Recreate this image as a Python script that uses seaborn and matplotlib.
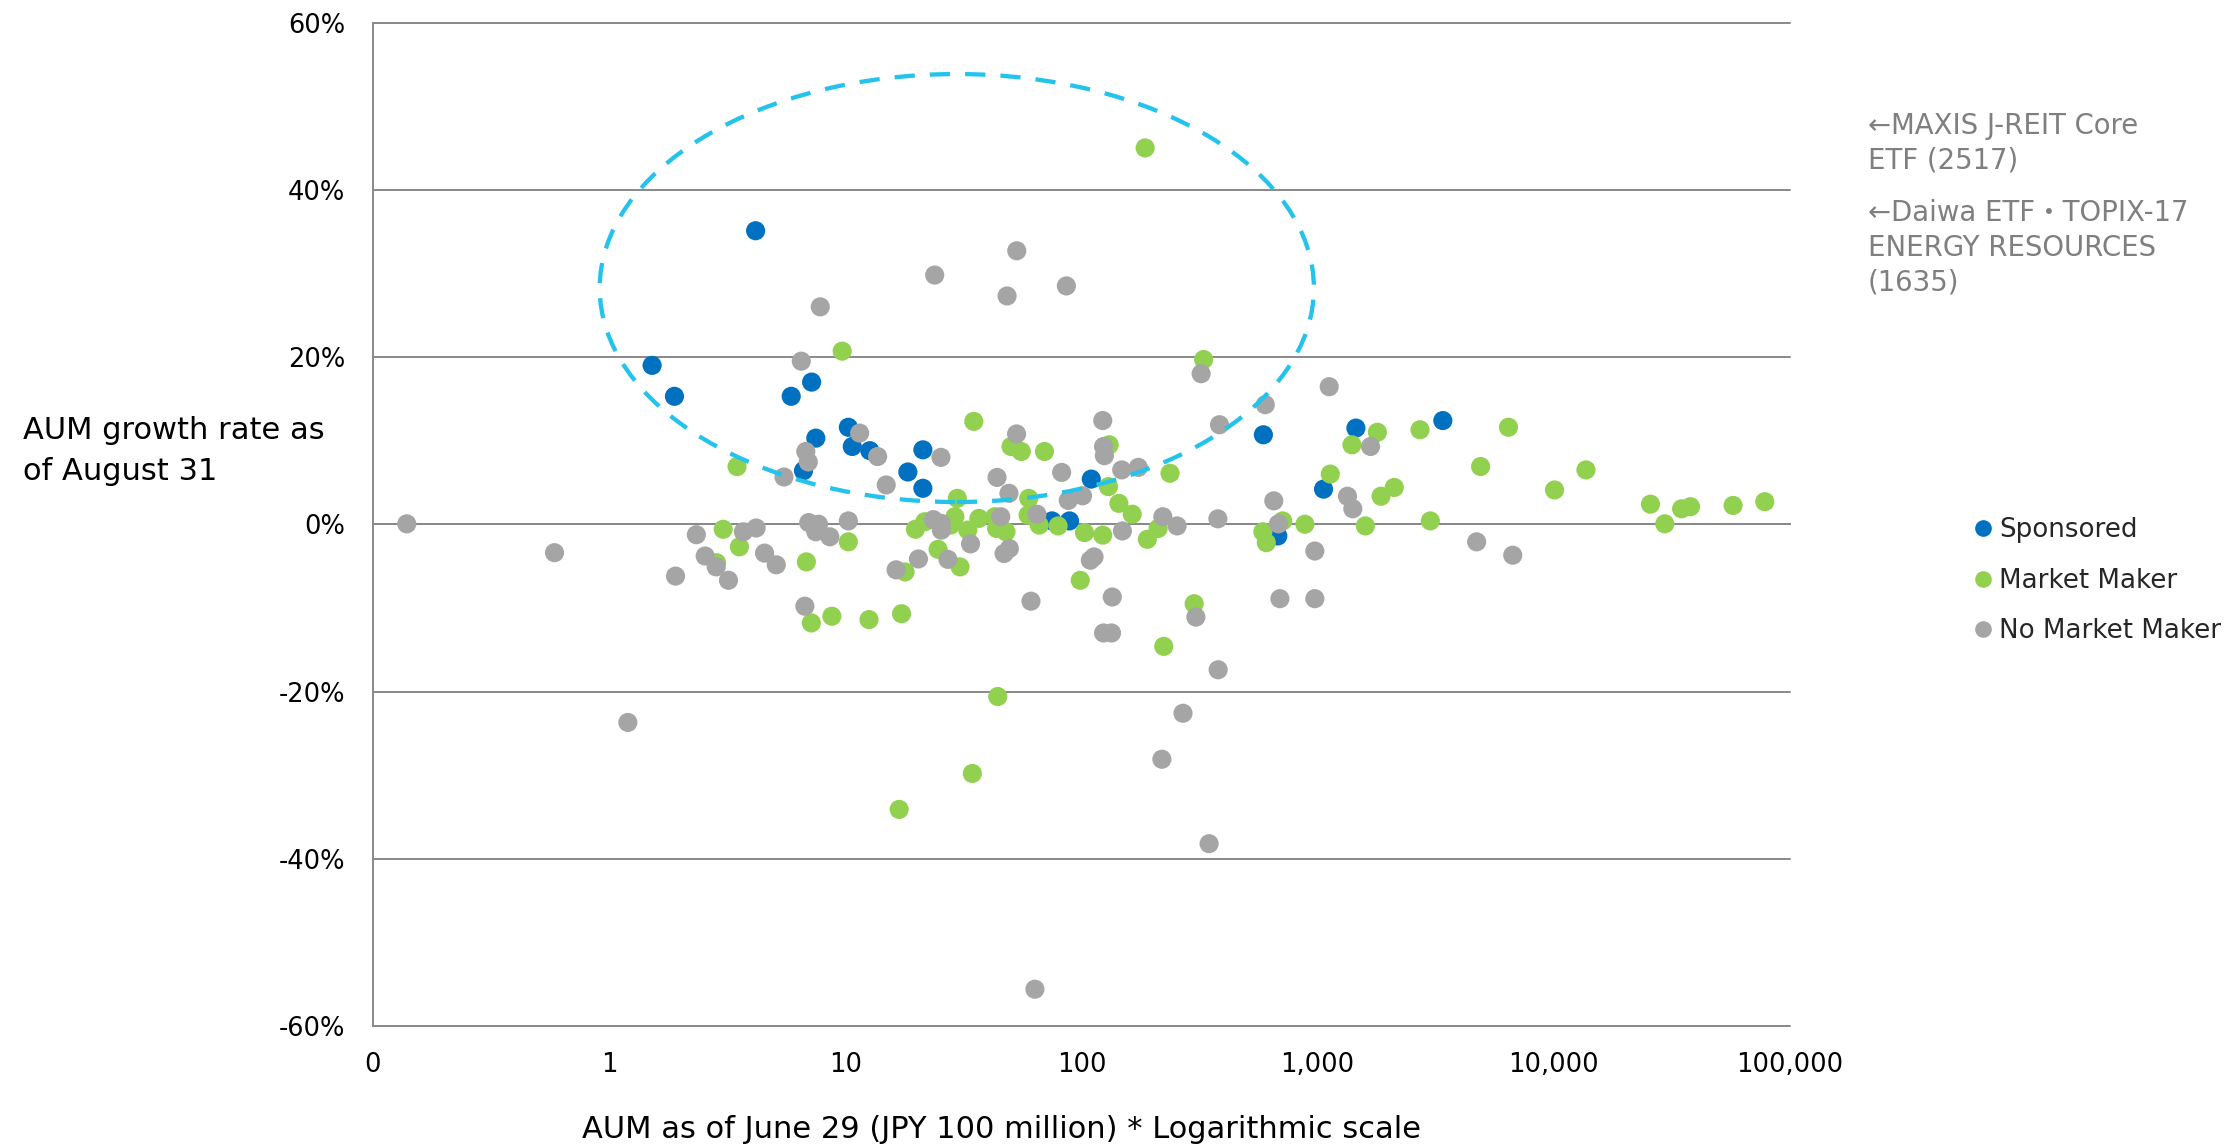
import matplotlib
matplotlib.use("Agg")
import matplotlib.pyplot as plt
from matplotlib.patches import Ellipse
from matplotlib.lines import Line2D
from matplotlib.ticker import NullLocator
import pandas as pd
import seaborn as sns

# ---------------- data ----------------
series_names = ["Sponsored", "Market Maker", "No Market Maker"]
series_colors = ["#0070C0", "#92D050", "#A5A5A5"]

sponsored_aum = [4.17, 1.52, 1.89, 5.9, 7.2, 10.3, 7.5, 10.7, 12.7, 6.65, 18.4,
                 21.3, 21.3, 110, 75, 89, 589, 678, 1059, 1452, 3388]
sponsored_growth = [35.1, 19.0, 15.3, 15.3, 17.0, 11.6, 10.3, 9.3, 8.8, 6.4, 6.25,
                    8.9, 4.3, 5.4, 0.4, 0.4, 10.7, -1.4, 4.2, 11.5, 12.4]

market_maker_aum = [9.7, 3.48, 3.04, 3.56, 10.3, 19.8, 6.84, 2.85, 7.18, 8.77, 12.6,
                    17.3, 17.9, 16.9, 44.2, 34.5, 30.6, 24.7, 35.0, 21.7, 29.1, 27.9,
                    33.0, 36.8, 43.0, 43.7, 47.9, 50.3, 55.6, 69.7, 29.8, 59.8, 59.4,
                    66.2, 79.6, 103, 123, 131, 130, 144, 164, 190, 211, 186, 237, 329,
                    98.8, 223, 300, 586, 606, 711, 883, 1131, 1397, 1790, 1592, 1855,
                    2110, 2712, 3000, 4898, 6426, 10070, 13680, 25650, 29500, 34750,
                    37900, 57400, 78200]
market_maker_growth = [20.7, 6.9, -0.6, -2.7, -2.1, -0.6, -4.5, -4.6, -11.8, -11.0, -11.4,
                       -10.7, -5.7, -34.1, -20.6, -29.8, -5.1, -3.0, 12.3, 0.3, 0.9, -0.1,
                       -0.7, 0.7, 0.9, -0.5, -0.9, 9.3, 8.7, 8.7, 3.1, 3.1, 1.1,
                       -0.1, -0.2, -1.0, -1.3, 9.5, 4.5, 2.5, 1.2, -1.8, -0.5, 45.0, 6.1, 19.7,
                       -6.7, -14.6, -9.5, -0.9, -2.2, 0.4, 0.0, 6.0, 9.5, 11.0, -0.2, 3.35,
                       4.4, 11.3, 0.4, 6.9, 11.6, 4.1, 6.5, 2.4, 0.05, 1.85,
                       2.1, 2.25, 2.7]

no_market_maker_aum = [0.139, 0.587, 1.20, 1.91, 2.34, 2.55, 2.84, 3.20, 3.70, 4.19, 4.55,
                       5.1, 5.5, 6.51, 7.83, 6.74, 6.8, 6.97, 7.0, 7.7, 7.5, 8.6, 10.3,
                       11.5, 13.7, 14.9, 16.4, 20.4, 23.9, 25.4, 23.6, 25.5, 25.5, 27.2,
                       33.9, 43.9, 49.3, 45.5, 47.0, 49.5, 53.2, 48.4, 86.3, 53.1, 64.8,
                       61.1, 63.5, 82.4, 87.9, 101, 109, 113, 123, 124, 125, 148, 174,
                       149, 135, 124, 134, 221, 254, 219, 269, 305, 321, 347, 379, 378,
                       384, 600, 652, 682, 692, 973, 973, 1119, 1337, 1409, 1675, 4712, 6700]
no_market_maker_growth = [0.05, -3.4, -23.7, -6.2, -1.25, -3.8, -5.1, -6.7, -0.9, -0.45, -3.45,
                          -4.85, 5.65, 19.5, 26.0, -9.8, 8.7, 7.45, 0.2, 0.0, -0.9, -1.5, 0.4,
                          10.9, 8.1, 4.7, -5.45, -4.15, 29.8, 8.0, 0.55, 0.1, -0.7, -4.2,
                          -2.35, 5.6, 3.7, 0.9, -3.5, -2.9, 32.7, 27.3, 28.5, 10.8, 1.2,
                          -9.2, -55.6, 6.2, 2.85, 3.4, -4.3, -3.9, 12.4, 9.3, 8.2, 6.5, 6.8,
                          -0.8, -8.7, -13.0, -13.0, 0.9, -0.2, -28.1, -22.6, -11.1, 18.0, -38.2, -17.4, 0.65,
                          11.9, 14.3, 2.8, 0.05, -8.9, -8.9, -3.2, 16.45, 3.35, 1.85, 9.3, -2.1, -3.7]

x_tick_values = [0.1, 1, 10, 100, 1000, 10000, 100000]
x_tick_labels = ["0", "1", "10", "100", "1,000", "10,000", "100,000"]
y_tick_values = [-60, -40, -20, 0, 20, 40, 60]
y_tick_labels = [f"{v}%" for v in y_tick_values]

x_title = "AUM as of June 29 (JPY 100 million) * Logarithmic scale"
y_title = "AUM growth rate as\nof August 31"
note_1 = "\u2190MAXIS J-REIT Core\nETF (2517)"
note_2 = "\u2190Daiwa ETF\u30fbTOPIX-17\nENERGY RESOURCES\n(1635)"

# ---------------- table ----------------
df = pd.concat([
    pd.DataFrame({"aum": sponsored_aum, "growth": sponsored_growth, "type": series_names[0]}),
    pd.DataFrame({"aum": market_maker_aum, "growth": market_maker_growth, "type": series_names[1]}),
    pd.DataFrame({"aum": no_market_maker_aum, "growth": no_market_maker_growth, "type": series_names[2]}),
], ignore_index=True)

# ---------------- style ----------------
sns.set_style("white")
plt.rcParams["font.family"] = ["DejaVu Sans", "Noto Sans CJK JP"]
line_gray = "#898989"

fig = plt.figure(figsize=(22.28, 11.46), dpi=100)
ax = fig.add_axes([0.16741, 0.10471, 0.63600, 0.87565])

sns.scatterplot(data=df, x="aum", y="growth", hue="type", hue_order=series_names,
                palette=series_colors, s=190, linewidth=0, legend=False, ax=ax, zorder=3)

ax.set_xscale("log")
ax.set_xlim(x_tick_values[0], x_tick_values[-1])
ax.set_ylim(y_tick_values[0], y_tick_values[-1])
ax.set_xticks(x_tick_values)
ax.set_xticklabels(x_tick_labels)
ax.xaxis.set_minor_locator(NullLocator())
ax.set_yticks(y_tick_values)
ax.set_yticklabels(y_tick_labels)
ax.set_xlabel("")
ax.set_ylabel("")

# horizontal axis crosses at 0 %, labels stay low
ax.spines["bottom"].set_position(("data", 0))
for side in ["top", "right"]:
    ax.spines[side].set_visible(False)
for side in ["bottom", "left"]:
    ax.spines[side].set_color(line_gray)
    ax.spines[side].set_linewidth(1.4)

ax.tick_params(axis="x", which="major", direction="out", length=5.8, width=1.4,
               color=line_gray, pad=374, labelsize=18.5, labelcolor="black")
ax.tick_params(axis="y", which="major", direction="out", length=7.2, width=1.4,
               color=line_gray, pad=13, labelsize=18.5, labelcolor="black")

ax.yaxis.grid(True, color=line_gray, linewidth=1.4)
ax.xaxis.grid(False)
ax.set_axisbelow(True)
for gl in ax.yaxis.get_gridlines():
    gl.set_clip_on(False)

# dashed highlight ellipse
ell = Ellipse((0.412, 0.7354), 0.504, 0.4265, transform=ax.transAxes, fill=False,
              edgecolor="#24C3EC", linewidth=3.1, linestyle=(0, (4.7, 3.5)), zorder=5)
ax.add_patch(ell)

# titles
fig.text(0.4497, 0.014, x_title, fontsize=22, ha="center", va="center", color="black")
fig.text(0.0103, 0.6065, y_title, fontsize=22, ha="left", va="center", color="black",
         linespacing=1.55)

# notes
fig.text(0.8384, 0.9023, note_1, fontsize=19.8, ha="left", va="top", color="#7f7f7f",
         linespacing=1.3)
fig.text(0.8384, 0.8264, note_2, fontsize=19.8, ha="left", va="top", color="#7f7f7f",
         linespacing=1.3)

# legend
handles = [Line2D([], [], marker="o", linestyle="none", markersize=12,
                  markerfacecolor=c, markeredgewidth=0) for c in series_colors]
ax.legend(handles, series_names, loc="center left", bbox_to_anchor=(0.8866, 0.4933),
          bbox_transform=fig.transFigure, frameon=False, fontsize=18.8,
          handlelength=0.6, handletextpad=0.3, labelspacing=0.95, borderpad=0,
          borderaxespad=0)

fig.savefig("out.png", dpi=100)
